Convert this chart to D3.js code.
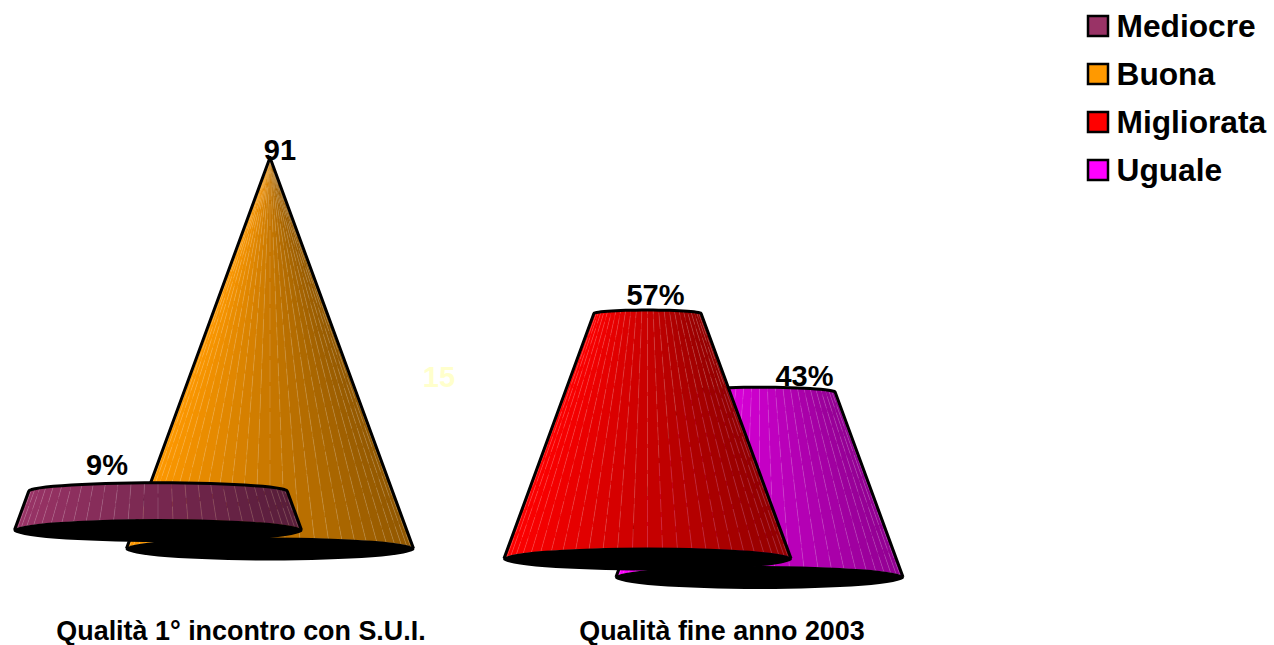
<!DOCTYPE html>
<html>
<head>
    <meta charset="utf-8" />
    <title>Qualità</title>
    <script src="https://cdn.jsdelivr.net/npm/d3@7"></script>
    <style>
        html, body { margin: 0; background: #fff; }
        svg { display: block; }
        text { font-family: "Liberation Sans", Arial, sans-serif; font-weight: bold; fill: #000; }
    </style>
</head>
<body>
    <svg class="chart" width="1274" height="645"></svg>

    <script>
    var groups = ["Qualità 1° incontro con S.U.I.", "Qualità fine anno 2003"];
    var seriesNames = ["Mediocre", "Buona", "Migliorata", "Uguale"];
    var seriesGroup = [0, 0, 1, 1];
    var seriesSlot = [0, 1, 0, 1];
    var seriesValues = [9, 91, 57, 43];
    var seriesLabels = ["9%", "91", "57%", "43%"];
    var seriesColors = ["#993366", "#ff9900", "#ff0000", "#ff00ff"];
    var strayLabel = "15";

    var svg = d3.select(".chart");
    var maxValue = d3.max(seriesValues);
    var facets = 30, baseRx = 143.5, baseRy = 10.5;

    // height of a cone, and how much it has narrowed at a value (cone closes at the max)
    var y = d3.scaleLinear().domain([0, maxValue]).range([0, 391]);
    var radius = d3.scaleLinear().domain([0, maxValue]).range([baseRx, 0]);
    // the two groups, then the front/back slot inside a group
    var xGroup = d3.scalePoint().domain([0, 1]).range([214, 703.5]);
    var xSlot = d3.scalePoint().domain([0, 1]).range([-56, 56]);
    var yGroup = d3.scalePoint().domain([0, 1]).range([530, 558.5]);
    var ySlot = d3.scalePoint().domain([0, 1]).range([0, 18.5]);

    var line = d3.line();

    function drawCone(i) {
        var value = seriesValues[i];
        var cx = xGroup(seriesGroup[i]) + xSlot(seriesSlot[i]);
        var by = yGroup(seriesGroup[i]) + ySlot(seriesSlot[i]);
        var ty = by - y(value);
        var topRx = radius(value);
        var topRy = baseRy * (topRx / baseRx) * 0.9;
        var shade = d3.interpolateRgb(seriesColors[i], d3.rgb(seriesColors[i]).darker(1.6));

        function bottomPt(a) { return [cx + baseRx * Math.cos(a), by - baseRy * Math.sin(a)]; }
        function topPt(a) { return [cx + topRx * Math.cos(a), ty - topRy * Math.sin(a)]; }

        var angles = d3.range(facets + 1).map(function (k) { return Math.PI * (1 - k / facets); });
        var cone = svg.append("g").attr("class", "cone");

        function facetColor(k) {
            // left edge brightest, right edge darkest
            return shade((1 + Math.cos(angles[k] - Math.PI / facets / 2)) / 2);
        }

        cone.selectAll("path.facet")
            .data(d3.range(facets))
          .enter().append("path")
            .attr("class", "facet")
            .attr("d", function (k) {
                return line([bottomPt(angles[k]), bottomPt(angles[k + 1]), topPt(angles[k + 1]), topPt(angles[k])]) + "Z";
            })
            .attr("fill", facetColor)
            .attr("stroke", facetColor)
            .attr("stroke-width", 0.4);

        // pale seams between the facets
        cone.selectAll("line.seam")
            .data(d3.range(1, facets))
          .enter().append("line")
            .attr("class", "seam")
            .attr("x1", function (k) { return bottomPt(angles[k])[0]; })
            .attr("y1", function (k) { return bottomPt(angles[k])[1]; })
            .attr("x2", function (k) { return topPt(angles[k])[0]; })
            .attr("y2", function (k) { return topPt(angles[k])[1]; })
            .attr("stroke", "#fff")
            .attr("stroke-opacity", 0.2)
            .attr("stroke-width", 0.8)
            .attr("stroke-dasharray", function (k) { return (13 + k % 4 * 3) + " " + (4 + k % 3); });

        // outline: left side, top rim, right side
        var outline = [bottomPt(Math.PI)].concat(angles.map(topPt), [bottomPt(0)]);
        cone.append("path")
            .attr("d", line(outline))
            .attr("fill", "none")
            .attr("stroke", "#000")
            .attr("stroke-width", 3)
            .attr("stroke-linejoin", "round");

        // black underside
        cone.append("ellipse")
            .attr("cx", cx)
            .attr("cy", by + 0.5)
            .attr("rx", baseRx + 1)
            .attr("ry", baseRy + 1)
            .attr("fill", "#000");
    }

    // back cones first
    [1, 0, 3, 2].forEach(drawCone);

    // label anchors, as offsets from each cone's centre
    var labelDx = [-51, 10, 8, 45];
    var labelDy = [-16, 2, -9, -6];
    seriesValues.forEach(function (value, i) {
        var cx = xGroup(seriesGroup[i]) + xSlot(seriesSlot[i]);
        var by = yGroup(seriesGroup[i]) + ySlot(seriesSlot[i]);
        svg.append("text")
            .attr("x", cx + labelDx[i])
            .attr("y", by - y(value) + labelDy[i])
            .attr("text-anchor", "middle")
            .style("font-size", "29px")
            .text(seriesLabels[i]);
    });

    svg.append("text")
        .attr("x", 439)
        .attr("y", 387)
        .attr("text-anchor", "middle")
        .style("font-size", "29px")
        .style("fill", "#ffffcc")
        .text(strayLabel);

    var titleX = [241, 722];
    svg.selectAll("text.group")
        .data(groups)
      .enter().append("text")
        .attr("class", "group")
        .attr("x", function (d, i) { return titleX[i]; })
        .attr("y", 640)
        .attr("text-anchor", "middle")
        .style("font-size", "26.9px")
        .text(function (d) { return d; });

    var legendY = d3.scalePoint().domain(seriesNames).range([26, 170]);
    var legend = svg.selectAll("g.legend")
        .data(seriesNames)
      .enter().append("g")
        .attr("class", "legend")
        .attr("transform", function (d) { return "translate(1088," + legendY(d) + ")"; });
    legend.append("rect")
        .attr("x", 0)
        .attr("y", -10)
        .attr("width", 20)
        .attr("height", 20)
        .attr("fill", function (d, i) { return seriesColors[i]; })
        .attr("stroke", "#000")
        .attr("stroke-width", 2.5);
    legend.append("text")
        .attr("x", 28.5)
        .attr("y", 0)
        .attr("dy", ".35em")
        .style("font-size", "31.7px")
        .text(function (d) { return d; });
    </script>
</body>
</html>
